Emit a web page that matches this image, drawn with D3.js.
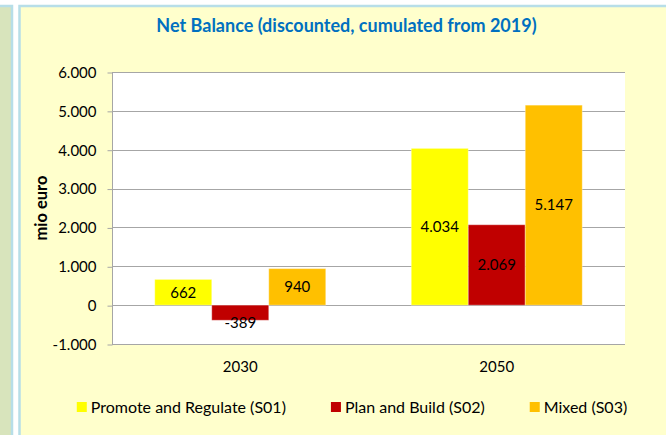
<!DOCTYPE html>
<html>
<head>
<meta charset="utf-8">
<script src="https://cdn.jsdelivr.net/npm/d3@7"></script>
<style>
  body { margin: 0; background: #ffffff; }
  svg { display: block; font-family: Lato, "Open Sans", sans-serif; }
</style>
</head>
<body>
<svg></svg>
<script>
const categories = ["2030", "2050"];
const seriesNames = ["Promote and Regulate (S01)", "Plan and Build (S02)", "Mixed (S03)"];
const seriesColors = ["#ffff00", "#c00000", "#ffc000"];
const s01 = [662, 4034];
const s02 = [-389, 2069];
const s03 = [940, 5147];
const yTicks = [-1000, 0, 1000, 2000, 3000, 4000, 5000, 6000];

const width = 666;
const height = 435;
const plot = { left: 112, right: 625, top: 72, bottom: 344 };

const svg = d3.select("svg").attr("width", width).attr("height", height);

// thousands separator is a dot
const locale = d3.formatLocale({ thousands: ".", decimal: ",", grouping: [3], currency: ["", ""], minus: "-" });
const fmt = locale.format(",");

// frames
svg.append("rect").attr("x", -4).attr("y", 6).attr("width", 16).attr("height", 440)
  .attr("fill", "#d8e4bc").attr("stroke", "#b7dee8").attr("stroke-width", 2.5);
svg.append("rect").attr("x", 19.5).attr("y", 6).attr("width", 660).attr("height", 440)
  .attr("fill", "#ffffcc").attr("stroke", "#b7dee8").attr("stroke-width", 2.5);

// plot background
svg.append("rect").attr("x", plot.left).attr("y", plot.top)
  .attr("width", plot.right - plot.left).attr("height", plot.bottom - plot.top)
  .attr("fill", "#ffffff");

const yScale = d3.scaleLinear().domain([-1000, 6000]).range([plot.bottom, plot.top]);

const x0 = d3.scaleBand().domain(categories).range([plot.left, plot.right]).padding(0);
const x1 = d3.scaleBand().domain(seriesNames).range([0, x0.bandwidth()])
  .paddingInner(0).paddingOuter(0.75);

// gridlines
svg.append("g").selectAll("line").data(yTicks).enter().append("line")
  .attr("x1", plot.left).attr("x2", plot.right)
  .attr("y1", (d) => Math.round(yScale(d)) + 0.5)
  .attr("y2", (d) => Math.round(yScale(d)) + 0.5)
  .attr("stroke", "#a6a6a6").attr("stroke-width", 1);

// y axis
const yAxis = d3.axisLeft(yScale).tickValues(yTicks).tickFormat(fmt).tickSize(5).tickPadding(11);
const gy = svg.append("g").attr("transform", "translate(" + (plot.left + 0.5) + ",0.5)").call(yAxis);
gy.selectAll("path, line").attr("stroke", "#a6a6a6");
gy.select(".domain").attr("d", "M0," + Math.round(plot.top) + "V" + Math.round(plot.bottom));
gy.selectAll("text").attr("font-size", 15).attr("fill", "#000").attr("font-family", "Lato");

// bars
const seriesData = [s01, s02, s03];
const barData = [];
seriesData.forEach((vals, si) => {
  vals.forEach((v, ci) => {
    barData.push({ cat: categories[ci], series: seriesNames[si], color: seriesColors[si], value: v });
  });
});

svg.append("g").selectAll("rect").data(barData).enter().append("rect")
  .attr("x", (d) => x0(d.cat) + x1(d.series))
  .attr("width", x1.bandwidth())
  .attr("y", (d) => yScale(Math.max(0, d.value)))
  .attr("height", (d) => Math.abs(yScale(d.value) - yScale(0)))
  .attr("fill", (d) => d.color)
  .attr("stroke", "rgba(255,255,255,0.35)")
  .attr("stroke-width", 1);

// data labels
svg.append("g").selectAll("text").data(barData).enter().append("text")
  .attr("x", (d) => x0(d.cat) + x1(d.series) + x1.bandwidth() / 2)
  .attr("y", (d) => {
    const h = Math.abs(yScale(d.value) - yScale(0));
    if (h < 18) return yScale(d.value) + (d.value < 0 ? 2 : -2);
    return (yScale(d.value) + yScale(0)) / 2;
  })
  .attr("dy", "0.35em")
  .attr("text-anchor", "middle")
  .attr("font-size", 15)
  .attr("fill", "#000")
  .text((d) => fmt(d.value));

// category labels
svg.append("g").selectAll("text").data(categories).enter().append("text")
  .attr("x", (d) => x0(d) + x0.bandwidth() / 2)
  .attr("y", 372)
  .attr("text-anchor", "middle")
  .attr("font-size", 15)
  .text((d) => d);

// title
svg.append("text")
  .attr("x", 346.5).attr("y", 32)
  .attr("text-anchor", "middle")
  .attr("font-size", 18).attr("font-weight", "bold")
  .attr("fill", "#0070c0")
  .text("Net Balance (discounted, cumulated from 2019)");

// y axis title
svg.append("text")
  .attr("transform", "translate(47," + ((plot.top + plot.bottom) / 2) + ") rotate(-90)")
  .attr("text-anchor", "middle")
  .attr("font-size", 16.5).attr("font-weight", "bold")
  .text("mio euro");

// legend
const legend = svg.append("g");
const items = legend.selectAll("g").data(seriesNames).enter().append("g");
items.append("rect").attr("width", 10).attr("height", 10).attr("y", 402)
  .attr("fill", (d, i) => seriesColors[i]);
items.append("text").attr("x", 14).attr("y", 413).attr("font-size", 16).text((d) => d);
const widths = [];
items.each(function () { widths.push(14 + this.querySelector("text").getComputedTextLength()); });
const gap = 45;
const total = d3.sum(widths) + gap * (widths.length - 1);
let cx = 352 - total / 2;
items.each(function (d, i) {
  d3.select(this).attr("transform", "translate(" + cx + ",0)");
  cx += widths[i] + gap;
});
</script>
</body>
</html>
